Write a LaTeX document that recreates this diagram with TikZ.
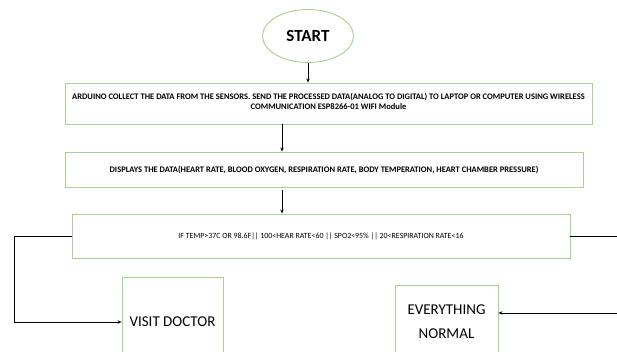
\documentclass[tikz,border=0pt]{standalone}
\usepackage{fontspec}
\setmainfont{Carlito}
\usetikzlibrary{calc, arrows.meta, shapes.geometric}
\definecolor{boxgreen}{RGB}{169,209,142}

\begin{document}
\begin{tikzpicture}[x=1pt, y=-1pt,
            greenbox/.style={draw=boxgreen, line width=0.9pt, rectangle, inner sep=0pt},
            flowarrow/.style={line width=1pt, -{Stealth[length=4pt,width=3.5pt]}},
            flowline/.style={line width=1pt},
            boldtext/.style={font=\fontsize{8.5}{9.5}\selectfont\bfseries, align=center},
            bigtext/.style={font=\fontsize{15}{24}\selectfont, align=center}]
            \useasboundingbox (0,0) rectangle (617,351);
            \clip (0,0) rectangle (617,351);
            \node[ellipse, draw=boxgreen, line width=0.9pt, minimum width=91, minimum height=53,
                font=\fontsize{17}{20}\selectfont\bfseries] (start) at (308,36) {START};
            \node[greenbox, minimum width=527, minimum height=41] (collect) at (328.5,103.5) {};
            \node[boldtext, anchor=north] (collecttxt) at (328.5,90)
                {ARDUINO COLLECT THE DATA FROM THE SENSORS. SEND THE PROCESSED DATA(ANALOG TO DIGITAL) TO LAPTOP OR COMPUTER USING WIRELESS\\
                COMMUNICATION ESP8266-01 WIFI Module};
            \node[greenbox, minimum width=518, minimum height=35, boldtext] (display) at (324,169.5)
                {DISPLAYS THE DATA(HEART RATE, BLOOD OXYGEN, RESPIRATION RATE, BODY TEMPERATION, HEART CHAMBER PRESSURE)};
            \node[greenbox, minimum width=498, minimum height=44, font=\fontsize{7.9}{10}\selectfont] (check) at (321,236)
                {IF TEMP>37C OR 98.6F|| 100<HEAR RATE<60 || SPO2<95\% || 20<RESPIRATION RATE<16};
            \node[greenbox, minimum width=101, minimum height=90, bigtext] (doctor) at (172.5,322) {VISIT DOCTOR};
            \node[greenbox, anchor=north, minimum width=103, minimum height=80] (normal) at (446.5,285) {};
            \node[bigtext, anchor=north] (normaltxt) at (446.5,301) {EVERYTHING\\NORMAL};
            \coordinate (arrowx) at (282,0);
            \coordinate (leftrun) at (14,0);
            \coordinate (rightrun) at (640,0);
            \coordinate (normalin) at ($(normal.north east)+(0,28)$);
            \draw[flowarrow] (start.south) -- (start.south |- collect.north);
            \draw[flowarrow] (collect.south -| arrowx) -- (display.north -| arrowx);
            \draw[flowarrow] ($(display.south -| arrowx)+(0,3)$) -- (check.north -| arrowx);
            \draw[flowarrow] (check.west) -- (check.west -| leftrun) -- (leftrun |- doctor.west) -- (doctor.west);
            \draw[flowline] (check.east) -- (check.east -| rightrun);
            \draw[flowarrow] (rightrun |- normalin) -- (normalin);
        \end{tikzpicture}
\end{document}
